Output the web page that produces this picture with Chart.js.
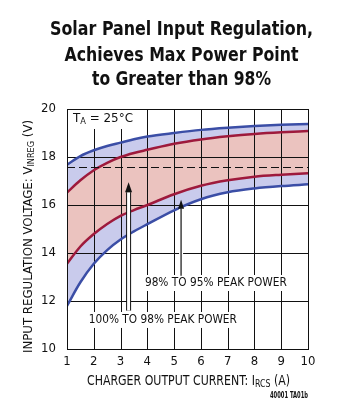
<!DOCTYPE html>
<html>
<head>
<meta charset="utf-8">
<script src="https://cdn.jsdelivr.net/npm/chart.js@4"></script>
<style>
  html, body { margin: 0; padding: 0; background: #fff; }
</style>
</head>
<body>
<canvas id="chart" width="347" height="405"></canvas>
<script>
// charger output current (A)
const currents = [1, 1.5, 2, 2.5, 3, 3.5, 4, 5, 6, 7, 8, 9, 10];
// input regulation voltage curves (V)
const outerTop = [17.68, 18.04, 18.28, 18.46, 18.60, 18.74, 18.85, 19.00, 19.13, 19.22, 19.29, 19.34, 19.37];
const innerTop = [16.52, 17.03, 17.45, 17.76, 18.00, 18.17, 18.30, 18.55, 18.73, 18.86, 18.96, 19.03, 19.08];
const innerBottom = [13.55, 14.27, 14.79, 15.21, 15.55, 15.79, 16.00, 16.45, 16.80, 17.03, 17.18, 17.26, 17.32];
const outerBottom = [11.80, 12.78, 13.55, 14.12, 14.56, 14.90, 15.20, 15.78, 16.24, 16.53, 16.69, 16.79, 16.86];

const xTicks = [1, 2, 3, 4, 5, 6, 7, 8, 9, 10];
const yTicks = [10, 12, 14, 16, 18, 20];
const dashedLevel = 17.6;

const titleLines = ['Solar Panel Input Regulation,', 'Achieves Max Power Point', 'to Greater than 98%'];

const FONT = "'Liberation Sans Narrow', 'DejaVu Sans Condensed', 'Arial Narrow', 'Liberation Sans', sans-serif";
const BLUE = '#3b4ea6';
const RED = '#9e1a3c';
const LAVENDER = '#c9cbec';
const PINK = '#ebc3bf';

const toPoints = ys => currents.map((x, i) => ({ x: x, y: ys[i] }));

// draws a run of text pieces (with subscripts) squeezed to a given width
function richText(ctx, parts, cx, cy, width, rot) {
  ctx.save();
  ctx.translate(cx, cy);
  if (rot) ctx.rotate(rot);
  let total = 0;
  parts.forEach(p => {
    ctx.font = p.font;
    p.w = ctx.measureText(p.t).width;
    total += p.w;
  });
  ctx.scale(width / total, 1);
  ctx.textAlign = 'left';
  ctx.textBaseline = 'middle';
  ctx.fillStyle = '#111';
  let xx = -total / 2;
  parts.forEach(p => {
    ctx.font = p.font;
    ctx.fillText(p.t, xx, p.dy || 0);
    xx += p.w;
  });
  ctx.restore();
}

function arrow(ctx, x, yTail, yTip, shaft, headW, headH, hollow) {
  ctx.save();
  ctx.lineCap = 'butt';
  if (hollow) {
    ctx.strokeStyle = '#111';
    ctx.lineWidth = shaft + 2;
    ctx.beginPath(); ctx.moveTo(x, yTail); ctx.lineTo(x, yTip + headH); ctx.stroke();
    ctx.strokeStyle = '#fff';
    ctx.lineWidth = shaft;
    ctx.beginPath(); ctx.moveTo(x, yTail); ctx.lineTo(x, yTip + headH); ctx.stroke();
  } else {
    ctx.strokeStyle = '#fff';
    ctx.lineWidth = 4;
    ctx.beginPath(); ctx.moveTo(x, yTail); ctx.lineTo(x, yTip + headH); ctx.stroke();
    ctx.strokeStyle = '#111';
    ctx.lineWidth = 1.2;
    ctx.beginPath(); ctx.moveTo(x, yTail); ctx.lineTo(x, yTip + headH); ctx.stroke();
  }
  ctx.fillStyle = '#111';
  ctx.beginPath();
  ctx.moveTo(x, yTip);
  ctx.lineTo(x - headW / 2, yTip + headH);
  ctx.lineTo(x + headW / 2, yTip + headH);
  ctx.closePath();
  ctx.fill();
  ctx.restore();
}

// grid goes over the fills but under the curves
const gridOver = {
  id: 'gridOver',
  beforeDatasetsDraw(chart) {
    const { ctx, chartArea: a, scales: { x, y } } = chart;
    ctx.save();
    ctx.strokeStyle = '#111';
    ctx.lineWidth = 1;
    ctx.beginPath();
    xTicks.forEach(v => {
      const px = Math.round(x.getPixelForValue(v)) + 0.5;
      ctx.moveTo(px, a.top); ctx.lineTo(px, a.bottom);
    });
    yTicks.forEach(v => {
      const py = Math.round(y.getPixelForValue(v)) + 0.5;
      ctx.moveTo(a.left, py); ctx.lineTo(a.right, py);
    });
    ctx.stroke();
    ctx.restore();
  },
  afterDraw(chart) {
    const { ctx, chartArea: a, scales: { x, y } } = chart;
    ctx.save();

    // dashed reference level
    const dy = Math.round(y.getPixelForValue(dashedLevel)) + 0.5;
    ctx.strokeStyle = '#111';
    ctx.lineWidth = 1;
    ctx.setLineDash([8, 4]);
    ctx.beginPath(); ctx.moveTo(a.left, dy); ctx.lineTo(a.right, dy); ctx.stroke();
    ctx.setLineDash([]);

    // T_A label box
    ctx.fillStyle = '#fff';
    ctx.fillRect(a.left + 1, a.top + 1, 68, 19);
    richText(ctx, [
      { t: 'T', font: '13px ' + FONT },
      { t: 'A', font: '9px ' + FONT, dy: 3 },
      { t: ' = 25°C', font: '13px ' + FONT }
    ], a.left + 36, a.top + 10, 60);

    // peak power labels
    const labels = [
      { t: '98% TO 95% PEAK POWER', x: 6.56, y: 12.75, w: 142 },
      { t: '100% TO 98% PEAK POWER', x: 4.58, y: 11.21, w: 148 }
    ];
    labels.forEach(l => {
      const cx = x.getPixelForValue(l.x), cy = y.getPixelForValue(l.y);
      ctx.fillStyle = '#fff';
      ctx.fillRect(cx - l.w / 2 - 3, cy - 8, l.w + 6, 16);
      richText(ctx, [{ t: l.t, font: '13px ' + FONT }], cx, cy, l.w);
    });

    // arrows
    arrow(ctx, x.getPixelForValue(3.3), y.getPixelForValue(11.6), y.getPixelForValue(16.95), 3, 7, 10, true);
    arrow(ctx, x.getPixelForValue(5.26), y.getPixelForValue(13.05), y.getPixelForValue(16.22), 3, 6, 9, false);

    // frame
    ctx.strokeStyle = '#111';
    ctx.lineWidth = 1;
    ctx.strokeRect(Math.round(a.left) + 0.5, Math.round(a.top) + 0.5, Math.round(a.right - a.left), Math.round(a.bottom - a.top));

    // title
    ctx.fillStyle = '#111';
    ctx.textAlign = 'center';
    ctx.textBaseline = 'alphabetic';
    const tw = [263, 234, 179];
    const tb = [35, 60.5, 85];
    titleLines.forEach((t, i) => {
      ctx.save();
      ctx.font = 'bold 20px ' + FONT;
      const w = ctx.measureText(t).width;
      ctx.translate(181.5, tb[i]);
      ctx.scale(tw[i] / w, 1);
      ctx.fillText(t, 0, 0);
      ctx.restore();
    });

    // axis titles
    richText(ctx, [
      { t: 'INPUT REGULATION VOLTAGE: V', font: '13px ' + FONT },
      { t: 'INREG', font: '9px ' + FONT, dy: 3 },
      { t: ' (V)', font: '13px ' + FONT }
    ], 29, 236.5, 233, -Math.PI / 2);
    richText(ctx, [
      { t: 'CHARGER OUTPUT CURRENT: I', font: '14px ' + FONT },
      { t: 'RCS', font: '10px ' + FONT, dy: 3 },
      { t: ' (A)', font: '14px ' + FONT }
    ], (a.left + a.right) / 2 + 1, 381, 203);

    richText(ctx, [{ t: '40001 TA01b', font: 'bold 8px ' + FONT }], 289, 396, 38);
    ctx.restore();
  }
};

const line = (data, color, fill, bg) => ({
  data: toPoints(data),
  borderColor: color,
  borderWidth: 2.5,
  backgroundColor: bg || 'transparent',
  fill: fill,
  pointRadius: 0,
  cubicInterpolationMode: 'monotone'
});

new Chart(document.getElementById('chart'), {
  type: 'line',
  data: {
    datasets: [
      line(outerTop, BLUE, '+1', LAVENDER),
      line(innerTop, RED, '+1', PINK),
      line(innerBottom, RED, '+1', LAVENDER),
      line(outerBottom, BLUE, false)
    ]
  },
  options: {
    responsive: false,
    animation: false,
    layout: { padding: { top: 109, right: 39, bottom: 0, left: 0 } },
    scales: {
      x: {
        type: 'linear',
        min: 1,
        max: 10,
        grid: { display: false, drawTicks: false },
        border: { display: false },
        ticks: { stepSize: 1, autoSkip: false, maxRotation: 0, padding: 5, color: '#111', font: { family: FONT, size: 13 } },
        afterFit: s => { s.height = 56; }
      },
      y: {
        min: 10,
        max: 20,
        grid: { display: false, drawTicks: false },
        border: { display: false },
        ticks: { stepSize: 2, padding: 11, color: '#111', font: { family: FONT, size: 13 } },
        afterFit: s => { s.width = 67; }
      }
    },
    plugins: {
      legend: { display: false },
      tooltip: { enabled: false },
      filler: { drawTime: 'beforeDatasetsDraw' }
    }
  },
  plugins: [gridOver]
});
</script>
</body>
</html>
